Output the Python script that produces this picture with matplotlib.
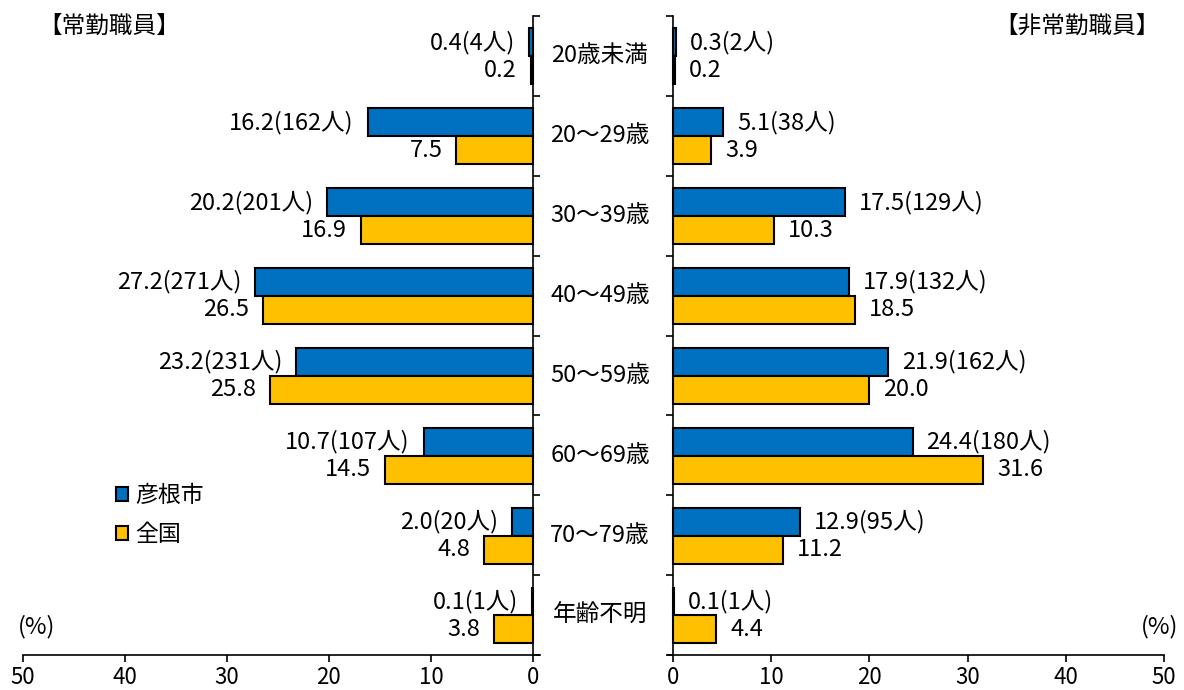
import matplotlib.pyplot as plt
from matplotlib.patches import Patch
from matplotlib.transforms import blended_transform_factory

plt.rcParams['font.family'] = ['Noto Sans CJK JP', 'DejaVu Sans']

# 年齢区分
ages = ['20歳未満', '20～29歳', '30～39歳', '40～49歳',
        '50～59歳', '60～69歳', '70～79歳', '年齢不明']

# 常勤職員 (%)
full_city = [0.4, 16.2, 20.2, 27.2, 23.2, 10.7, 2.0, 0.1]
full_city_n = [4, 162, 201, 271, 231, 107, 20, 1]
full_nation = [0.2, 7.5, 16.9, 26.5, 25.8, 14.5, 4.8, 3.8]

# 非常勤職員 (%)
part_city = [0.3, 5.1, 17.5, 17.9, 21.9, 24.4, 12.9, 0.1]
part_city_n = [2, 38, 129, 132, 162, 180, 95, 1]
part_nation = [0.2, 3.9, 10.3, 18.5, 20.0, 31.6, 11.2, 4.4]

BLUE = '#0070C0'
YELLOW = '#FFC000'
h = 0.35
fs = 17

W, H = 1184, 690
fig = plt.figure(figsize=(W / 100, H / 100), dpi=100)
ax_l = fig.add_axes([23 / W, 35 / H, 517 / W, 639 / H])
ax_r = fig.add_axes([668 / W, 35 / H, 496 / W, 639 / H])

y = list(range(len(ages)))
y_top = [i - 0.17 for i in y]
y_bot = [i + 0.18 for i in y]

for ax, city, city_n, nation, side in [(ax_l, full_city, full_city_n, full_nation, 'left'),
                                       (ax_r, part_city, part_city_n, part_nation, 'right')]:
    ax.barh(y_top, city, height=h, color=BLUE, edgecolor='black', linewidth=1.5)
    ax.barh(y_bot, nation, height=h, color=YELLOW, edgecolor='black', linewidth=1.5)

    off = -10 if side == 'left' else 10
    ha = 'right' if side == 'left' else 'left'
    for yi, v, n in zip(y_top, city, city_n):
        ax.annotate(f'{v:.1f}({n}人)', (v, yi), xytext=(off, 0), textcoords='offset points',
                    ha=ha, va='center', fontsize=fs)
    for yi, v in zip(y_bot, nation):
        ax.annotate(f'{v:.1f}', (v, yi), xytext=(off, 0), textcoords='offset points',
                    ha=ha, va='center', fontsize=fs)

    ax.set_ylim(len(ages) - 0.5, -0.5)
    ax.set_yticks([i - 0.5 for i in range(len(ages) + 1)])
    ax.set_yticklabels([])
    ax.set_xticks([0, 10, 20, 30, 40, 50])
    ax.tick_params(axis='x', labelsize=16, length=5, width=1.2, pad=3)
    ax.tick_params(axis='y', length=5, width=1.2)
    ax.spines['top'].set_visible(False)
    ax.spines['bottom'].set_linewidth(1.2)

# 左側は0を右端に
ax_l.set_xlim(50, -0.7)
ax_l.spines['left'].set_visible(False)
ax_l.spines['right'].set_position(('data', 0))
ax_l.spines['right'].set_linewidth(1.2)
ax_l.yaxis.tick_right()

ax_r.set_xlim(-0.5, 50)
ax_r.spines['right'].set_visible(False)
ax_r.spines['left'].set_position(('data', 0))
ax_r.spines['left'].set_linewidth(1.2)

# 中央の年齢ラベル
trans = blended_transform_factory(fig.transFigure, ax_l.transData)
for i, a in enumerate(ages):
    ax_l.text(600 / W, i, a, transform=trans, ha='center', va='center',
              fontsize=fs, clip_on=False)

fig.text(38 / W, 1 - 26 / H, '【常勤職員】', ha='left', va='center', fontsize=17)
fig.text(1160 / W, 1 - 26 / H, '【非常勤職員】', ha='right', va='center', fontsize=17)
fig.text(37 / W, 1 - 627 / H, '(%)', ha='center', va='center', fontsize=17)
fig.text(1160 / W, 1 - 627 / H, '(%)', ha='center', va='center', fontsize=17)

handles = [Patch(facecolor=BLUE, edgecolor='black', linewidth=1.5, label='彦根市'),
           Patch(facecolor=YELLOW, edgecolor='black', linewidth=1.5, label='全国')]
fig.legend(handles=handles, loc='center left', bbox_to_anchor=(95 / W, 1 - 515 / H),
           frameon=False, handlelength=0.55, handleheight=0.55, handletextpad=0.3,
           labelspacing=0.7, prop={'size': 16.5})

fig.savefig('out.png', dpi=100)
